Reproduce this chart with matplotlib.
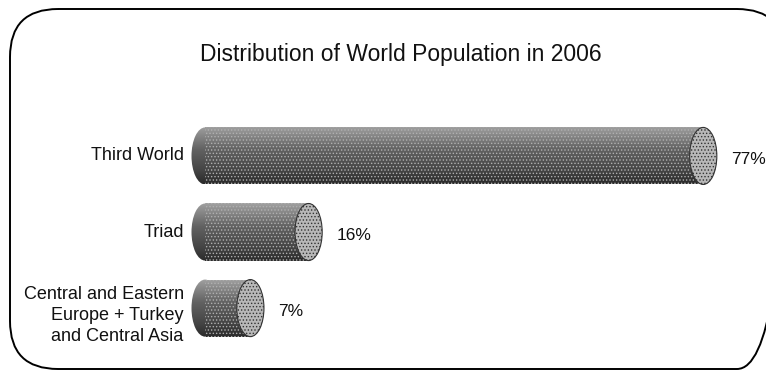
import numpy as np
import matplotlib
matplotlib.use('Agg')
import matplotlib.pyplot as plt
from matplotlib.patches import Ellipse, FancyBboxPatch
from matplotlib.colors import LinearSegmentedColormap

# data
regions = ['Third World', 'Triad', 'Central and Eastern\nEurope + Turkey\nand Central Asia']
shares = [77, 16, 7]
value_labels = ['77%', '16%', '7%']
title = 'Distribution of World Population in 2006'

plt.rcParams['font.family'] = ['Liberation Sans', 'DejaVu Sans']
plt.rcParams['hatch.linewidth'] = 0.6

fig = plt.figure(figsize=(7.66, 3.72), dpi=100)

# frame layer in pixel coordinates
bg = fig.add_axes([0, 0, 1, 1])
bg.set_xlim(0, 766)
bg.set_ylim(372, 0)
bg.axis('off')
frame = FancyBboxPatch((10, 9), 775, 360, boxstyle='round,pad=0,rounding_size=48',
                       fc='none', ec='black', lw=1.4)
bg.add_patch(frame)

ax = fig.add_axes([0, 0, 1, 1])
ax.patch.set_alpha(0)
ax.axis('off')
ax.set_xlim(-31.7, 86.7)
ax.set_ylim(2.84, -2.05)

cap_w = 4.2
bar_h = 0.75
body_cmap = LinearSegmentedColormap.from_list(
    'cyl', ['#a0a0a0', '#808080', '#626262', '#525252', '#424242', '#2a2a2a'])
grad = np.linspace(0, 1, 64).reshape(-1, 1)

ypos = np.arange(len(regions))
bars = ax.barh(ypos, shares, height=bar_h, color='none', edgecolor='none')
for y, v, b in zip(ypos, shares, bars):
    ext = (-cap_w / 2, v, y + bar_h / 2, y - bar_h / 2)
    im = ax.imshow(grad, cmap=body_cmap, aspect='auto', extent=ext, zorder=2)
    im.set_clip_path(b)
    left = Ellipse((0, y), cap_w, bar_h, fc='none', ec='none')
    ax.add_patch(left)
    im2 = ax.imshow(grad, cmap=body_cmap, aspect='auto', extent=ext, zorder=2)
    im2.set_clip_path(left)
    # stipple texture
    ax.barh(y, v, height=bar_h, color='none', edgecolor='#b0b0b0', lw=0,
            hatch='.....', zorder=2.5)
    cap = Ellipse((v, y), cap_w, bar_h, fc='#b8b8b8', ec='#333333', lw=0.8,
                  hatch='.....', zorder=3)
    ax.add_patch(cap)

for y, v, name, lab in zip(ypos, shares, regions, value_labels):
    ty = y + 0.1 if '\n' in name else y
    ax.text(-3.3, ty, name, ha='right', va='center', fontsize=13,
            linespacing=1.3, color='#111111')
    ax.text(v + cap_w / 2 + 2.2, y + 0.05, lab, ha='left', va='center',
            fontsize=12.5, color='#111111')

fig.text(401 / 766, 1 - 55 / 372, title, ha='center', va='center',
         fontsize=16.5, color='#111111')

fig.savefig('out.png', dpi=100)
